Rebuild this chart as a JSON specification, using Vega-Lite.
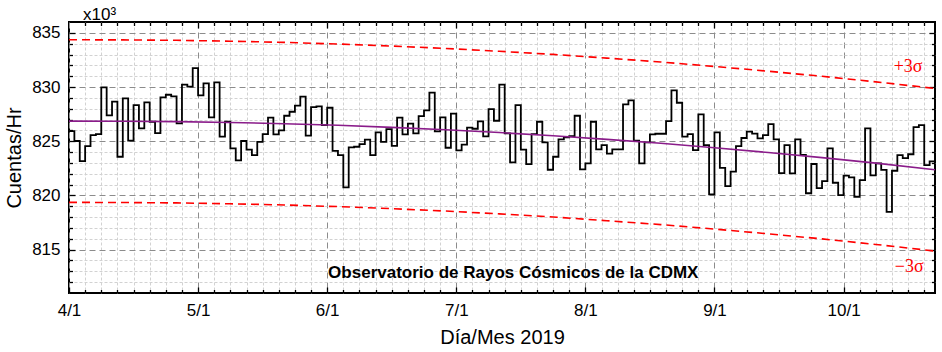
{
  "$schema": "https://vega.github.io/schema/vega-lite/v6.json",
  "width": 866,
  "height": 271,
  "autosize": {"type": "none"},
  "padding": {"left": 69, "top": 22, "right": 7, "bottom": 59},
  "background": "white",
  "config": {
    "view": {"stroke": "black", "strokeWidth": 2},
    "font": "Liberation Sans",
    "axis": {
      "domain": false,
      "labelFont": "Liberation Sans",
      "labelFontSize": 17,
      "labelColor": "black",
      "titleFont": "Liberation Sans",
      "titleFontSize": 20,
      "titleFontWeight": "normal",
      "titleColor": "black",
      "tickColor": "black",
      "tickWidth": 1.3,
      "labelFlush": false,
      "labelOverlap": false
    }
  },
  "datasets": {
    "counts": [
      {"t":0,"v":825.94},{"t":1,"v":825.02},{"t":2,"v":823.17},{"t":3,"v":824.55},{"t":4,"v":825.57},{"t":5,"v":825.66},{"t":6,"v":829.97},{"t":7,"v":827.38},{"t":8,"v":828.65},{"t":9,"v":823.57},
      {"t":10,"v":828.95},{"t":11,"v":825.05},{"t":12,"v":828.34},{"t":13,"v":826.18},{"t":14,"v":828.58},{"t":15,"v":826.8},{"t":16,"v":825.75},{"t":17,"v":829.05},{"t":18,"v":829.29},{"t":19,"v":829.14},
      {"t":20,"v":826.65},{"t":21,"v":830.22},{"t":22,"v":830.03},{"t":23,"v":831.75},{"t":24,"v":829.23},{"t":25,"v":830.34},{"t":26,"v":827.2},{"t":27,"v":830.43},{"t":28,"v":825.42},{"t":29,"v":826.8},
      {"t":30,"v":824.34},{"t":31,"v":823.23},{"t":32,"v":825.02},{"t":33,"v":824.22},{"t":34,"v":823.72},{"t":35,"v":824.95},{"t":36,"v":825.66},{"t":37,"v":827.17},{"t":38,"v":825.63},{"t":39,"v":826.0},
      {"t":40,"v":827.35},{"t":41,"v":827.72},{"t":42,"v":828.28},{"t":43,"v":829.11},{"t":44,"v":825.51},{"t":45,"v":828.15},{"t":46,"v":828.22},{"t":47,"v":826.49},{"t":48,"v":828.09},{"t":49,"v":824.12},
      {"t":50,"v":823.72},{"t":51,"v":820.74},{"t":52,"v":824.43},{"t":53,"v":824.49},{"t":54,"v":824.74},{"t":55,"v":825.14},{"t":56,"v":823.72},{"t":57,"v":825.82},{"t":58,"v":824.95},{"t":59,"v":826.12},
      {"t":60,"v":824.58},{"t":61,"v":827.17},{"t":62,"v":825.63},{"t":63,"v":826.62},{"t":64,"v":825.72},{"t":65,"v":827.32},{"t":66,"v":827.85},{"t":67,"v":829.48},{"t":68,"v":825.91},{"t":69,"v":827.2},
      {"t":70,"v":824.4},{"t":71,"v":827.54},{"t":72,"v":824.15},{"t":73,"v":824.68},{"t":74,"v":826.25},{"t":75,"v":826.15},{"t":76,"v":826.83},{"t":77,"v":825.45},{"t":78,"v":827.97},{"t":79,"v":826.89},
      {"t":80,"v":830.22},{"t":81,"v":825.72},{"t":82,"v":823.05},{"t":83,"v":828.34},{"t":84,"v":824.22},{"t":85,"v":822.89},{"t":86,"v":825.66},{"t":87,"v":826.8},{"t":88,"v":824.89},{"t":89,"v":822.37},
      {"t":90,"v":823.57},{"t":91,"v":825.17},{"t":92,"v":825.35},{"t":93,"v":825.48},{"t":94,"v":827.35},{"t":95,"v":822.4},{"t":96,"v":822.95},{"t":97,"v":826.8},{"t":98,"v":824.25},{"t":99,"v":824.65},
      {"t":100,"v":823.85},{"t":101,"v":824.25},{"t":102,"v":824.25},{"t":103,"v":828.4},{"t":104,"v":828.77},{"t":105,"v":825.05},{"t":106,"v":822.95},{"t":107,"v":824.89},{"t":108,"v":825.63},{"t":109,"v":825.69},
      {"t":110,"v":825.69},{"t":111,"v":826.86},{"t":112,"v":829.69},{"t":113,"v":828.55},{"t":114,"v":825.42},{"t":115,"v":825.66},{"t":116,"v":824.18},{"t":117,"v":827.48},{"t":118,"v":824.65},{"t":119,"v":820.09},
      {"t":120,"v":825.82},{"t":121,"v":822.55},{"t":122,"v":820.86},{"t":123,"v":822.2},{"t":124,"v":824.55},{"t":125,"v":825.3},{"t":126,"v":825.88},{"t":127,"v":825.7},{"t":128,"v":825.26},{"t":129,"v":825.57},
      {"t":130,"v":826.58},{"t":131,"v":825.17},{"t":132,"v":822.06},{"t":133,"v":824.65},{"t":134,"v":822.03},{"t":135,"v":825.17},{"t":136,"v":823.75},{"t":137,"v":820.2},{"t":138,"v":822.9},{"t":139,"v":820.68},
      {"t":140,"v":821.32},{"t":141,"v":824.34},{"t":142,"v":821.17},{"t":143,"v":820.03},{"t":144,"v":821.82},{"t":145,"v":821.66},{"t":146,"v":819.88},{"t":147,"v":821.42},{"t":148,"v":826.18},{"t":149,"v":821.85},
      {"t":150,"v":822.95},{"t":151,"v":822.35},{"t":152,"v":818.49},{"t":153,"v":822.28},{"t":154,"v":823.72},{"t":155,"v":823.45},{"t":156,"v":823.8},{"t":157,"v":826.3},{"t":158,"v":826.49},{"t":159,"v":822.8},
      {"t":160,"v":823.15},{"t":161,"v":823.15}
    ],
    "fit": [
      {"t":0,"fit":826.86,"hi":834.36,"lo":819.36},
      {"t":10,"fit":826.85,"hi":834.35,"lo":819.35},
      {"t":20,"fit":826.81,"hi":834.31,"lo":819.31},
      {"t":30,"fit":826.73,"hi":834.23,"lo":819.23},
      {"t":40,"fit":826.62,"hi":834.12,"lo":819.12},
      {"t":50,"fit":826.47,"hi":833.97,"lo":818.97},
      {"t":60,"fit":826.28,"hi":833.78,"lo":818.78},
      {"t":70,"fit":826.06,"hi":833.56,"lo":818.56},
      {"t":80,"fit":825.8,"hi":833.3,"lo":818.3},
      {"t":90,"fit":825.51,"hi":833.01,"lo":818.01},
      {"t":100,"fit":825.17,"hi":832.67,"lo":817.67},
      {"t":110,"fit":824.81,"hi":832.31,"lo":817.31},
      {"t":120,"fit":824.4,"hi":831.9,"lo":816.9},
      {"t":130,"fit":823.96,"hi":831.46,"lo":816.46},
      {"t":140,"fit":823.49,"hi":830.99,"lo":815.99},
      {"t":150,"fit":822.98,"hi":830.48,"lo":815.48},
      {"t":161,"fit":822.37,"hi":829.87,"lo":814.87}
    ]
  },
  "resolve": {"axis": {"x": "independent", "y": "independent"}},
  "layer": [
    {
      "data": {"name": "fit"},
      "mark": {"type": "line", "color": "#ff0000", "strokeWidth": 1.6, "strokeDash": [8, 5]},
      "encoding": {
        "x": {"field": "t", "type": "quantitative", "scale": {"domain": [0, 161], "nice": false, "zero": false},
          "axis": {"orient": "bottom", "title": null, "labels": false, "tickSize": -3.5,
            "values": [3,6,9,12,15,18,21,27,30,33,36,39,42,45,51,54,57,60,63,66,69,75,78,81,84,87,90,93,99,102,105,108,111,114,117,123,126,129,132,135,138,141,147,150,153,156,159],
            "grid": true, "gridColor": "#d2d2d2", "gridDash": [3, 2], "gridWidth": 1}},
        "y": {"field": "hi", "type": "quantitative", "scale": {"domain": [811, 836], "nice": false, "zero": false},
          "axis": {"orient": "left", "title": null, "labels": false, "tickSize": -3.5,
            "values": [812,813,814,816,817,818,819,821,822,823,824,826,827,828,829,831,832,833,834],
            "grid": true, "gridColor": "#d2d2d2", "gridDash": [3, 2], "gridWidth": 1}}
      }
    },
    {
      "data": {"name": "fit"},
      "mark": {"type": "line", "color": "#ff0000", "strokeWidth": 1.6, "strokeDash": [8, 5]},
      "encoding": {
        "x": {"field": "t", "type": "quantitative",
          "axis": {"orient": "top", "title": null, "labels": false, "tickSize": -3.5, "grid": false,
            "values": [3,6,9,12,15,18,21,27,30,33,36,39,42,45,51,54,57,60,63,66,69,75,78,81,84,87,90,93,99,102,105,108,111,114,117,123,126,129,132,135,138,141,147,150,153,156,159]}},
        "y": {"field": "lo", "type": "quantitative",
          "axis": {"orient": "right", "title": null, "labels": false, "tickSize": -3.5, "grid": false,
            "values": [812,813,814,816,817,818,819,821,822,823,824,826,827,828,829,831,832,833,834]}}
      }
    },
    {
      "data": {"name": "counts"},
      "mark": {"type": "line", "color": "black", "strokeWidth": 1.8, "interpolate": "step-after"},
      "encoding": {
        "x": {"field": "t", "type": "quantitative",
          "axis": {"orient": "bottom", "title": "Día/Mes 2019", "tickSize": -6, "labelPadding": 15, "titlePadding": 9,
            "values": [0, 24, 48, 72, 96, 120, 144],
            "labelExpr": "['4/1','5/1','6/1','7/1','8/1','9/1','10/1'][round(datum.value/24)]",
            "grid": true, "gridColor": "#8c8c8c", "gridDash": [6, 4], "gridWidth": 1}},
        "y": {"field": "v", "type": "quantitative",
          "axis": {"orient": "left", "title": "Cuentas/Hr", "tickSize": -6, "labelPadding": 15, "titlePadding": 7,
            "values": [815, 820, 825, 830, 835],
            "grid": true, "gridColor": "#8c8c8c", "gridDash": [6, 4], "gridWidth": 1}}
      }
    },
    {
      "data": {"name": "fit"},
      "mark": {"type": "line", "color": "#8a1c8a", "strokeWidth": 1.6},
      "encoding": {
        "x": {"field": "t", "type": "quantitative",
          "axis": {"orient": "top", "title": null, "labels": false, "tickSize": -6, "grid": false,
            "values": [24, 48, 72, 96, 120, 144]}},
        "y": {"field": "fit", "type": "quantitative",
          "axis": {"orient": "right", "title": null, "labels": false, "tickSize": -6, "grid": false,
            "values": [815, 820, 825, 830, 835]}}
      }
    },
    {
      "data": {"values": [{"t": 2.6, "v": 836.23, "label": "x10³"}]},
      "mark": {"type": "text", "align": "left", "baseline": "alphabetic", "fontSize": 17, "font": "Liberation Sans", "color": "black"},
      "encoding": {
        "x": {"field": "t", "type": "quantitative", "axis": null},
        "y": {"field": "v", "type": "quantitative", "axis": null},
        "text": {"field": "label"}
      }
    },
    {
      "data": {"values": [{"t": 156.0, "v": 831.41, "label": "+3σ"}, {"t": 156.2, "v": 812.95, "label": "−3σ"}]},
      "mark": {"type": "text", "align": "center", "baseline": "alphabetic", "fontSize": 18, "font": "Liberation Serif", "color": "#ff0000"},
      "encoding": {
        "x": {"field": "t", "type": "quantitative", "axis": null},
        "y": {"field": "v", "type": "quantitative", "axis": null},
        "text": {"field": "label"}
      }
    },
    {
      "data": {"values": [{"t": 82.6, "v": 812.34, "label": "Observatorio de Rayos Cósmicos de la CDMX"}]},
      "mark": {"type": "text", "align": "center", "baseline": "alphabetic", "fontSize": 17, "fontWeight": "bold", "font": "Liberation Sans", "color": "black"},
      "encoding": {
        "x": {"field": "t", "type": "quantitative", "axis": null},
        "y": {"field": "v", "type": "quantitative", "axis": null},
        "text": {"field": "label"}
      }
    }
  ]
}
